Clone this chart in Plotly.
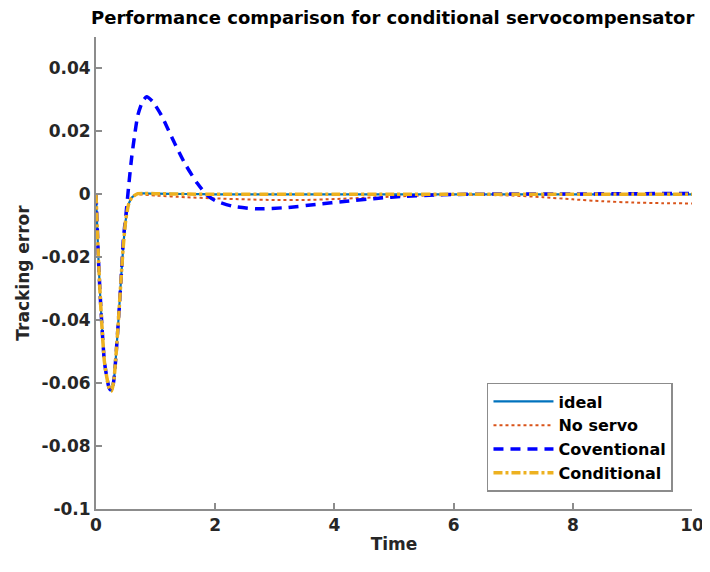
import plotly.graph_objects as go

t_dip = [0, 0.02, 0.04, 0.07, 0.1, 0.14, 0.18, 0.22, 0.26, 0.3, 0.34, 0.38, 0.42]
e_dip = [0, -0.010, -0.020, -0.032, -0.042, -0.053, -0.058, -0.0615, -0.0625, -0.059, -0.050, -0.039, -0.027]

t_ideal = t_dip + [0.46, 0.5, 0.55, 0.6, 0.7, 0.8, 1.0, 1.5, 2, 3, 4, 5, 6, 7, 8, 9, 10]
e_ideal = e_dip + [-0.016, -0.008, -0.003, -0.001, 0.0002, 0.0003, 0.0002, 0.0001, 0, 0, 0, 0, 0, 0, 0, 0, 0]

t_noservo = t_dip + [0.46, 0.5, 0.55, 0.6, 0.7, 1.0, 1.5, 2, 2.5, 3, 3.5, 4, 4.5, 5, 5.5, 6, 6.5, 7, 7.5, 8, 8.5, 9, 9.5, 10]
e_noservo = e_dip + [-0.016, -0.008, -0.003, -0.001, -0.0001, -0.0004, -0.0009, -0.0013, -0.0016, -0.0018,
                     -0.0018, -0.0015, -0.0011, -0.0007, -0.0004, -0.0002, -0.0002, -0.0004, -0.0009,
                     -0.0016, -0.0022, -0.0026, -0.0028, -0.0029]

t_conv = t_dip + [0.46, 0.5, 0.55, 0.6, 0.65, 0.7, 0.78, 0.85, 0.95, 1.1, 1.3, 1.5, 1.7, 1.85, 2.0, 2.3,
                  2.7, 3.2, 3.7, 4.2, 4.7, 5.2, 5.7, 6.2, 7, 8, 9, 10]
e_conv = e_dip + [-0.014, -0.007, 0.003, 0.012, 0.019, 0.025, 0.0295, 0.031, 0.0295, 0.025, 0.017, 0.0095,
                  0.0035, 0.0, -0.002, -0.0038, -0.0046, -0.0042, -0.0032, -0.0022, -0.0013, -0.0006,
                  -0.0002, 0.0, 0.0001, 0.0001, 0.0002, 0.0003]

t_cond = list(t_ideal)
e_cond = list(e_ideal)

y_ticks = [0.04, 0.02, 0, -0.02, -0.04, -0.06, -0.08, -0.1]
y_labels = ["0.04", "0.02", "0", "-0.02", "-0.04", "-0.06", "-0.08", "-0.1"]
x_ticks = [0, 2, 4, 6, 8, 10]

FONT = "DejaVu Sans"
TXT = "#262626"

fig = go.Figure()
fig.add_trace(go.Scatter(x=t_ideal, y=e_ideal, name="ideal", mode="lines",
                         line=dict(color="#0072BD", width=2.2, shape="spline", smoothing=0.6)))
fig.add_trace(go.Scatter(x=t_noservo, y=e_noservo, name="No servo", mode="lines",
                         line=dict(color="#D95319", width=2, dash="dot", shape="spline", smoothing=0.6)))
fig.add_trace(go.Scatter(x=t_conv, y=e_conv, name="Coventional", mode="lines",
                         line=dict(color="#0000FF", width=3.5, dash="10px,7px", shape="spline", smoothing=0.6)))
fig.add_trace(go.Scatter(x=t_cond, y=e_cond, name="Conditional", mode="lines",
                         line=dict(color="#EDB120", width=3.5, dash="9px,3px,3px,3px", shape="spline", smoothing=0.6)))

axis_common = dict(showgrid=False, zeroline=False, showline=True, linecolor="#8c8c8c", linewidth=2,
                   ticks="inside", ticklen=6, tickwidth=1.5, tickcolor="#8c8c8c",
                   ticklabeloverflow="allow", automargin=False,
                   tickfont=dict(family=FONT, size=17, color=TXT, weight="bold"))

fig.update_xaxes(range=[0, 10], tickvals=x_ticks, ticktext=[str(v) for v in x_ticks],
                 title=dict(text="<b>Time</b>", font=dict(family=FONT, size=17, color=TXT), standoff=4),
                 **axis_common)
fig.update_yaxes(range=[-0.1, 0.05], tickvals=y_ticks, ticktext=y_labels,
                 title=dict(text="<b>Tracking error</b>", font=dict(family=FONT, size=17, color=TXT), standoff=8),
                 **axis_common)

fig.update_layout(
    width=702, height=556,
    margin=dict(l=88, r=18, t=29, b=55, autoexpand=False),
    paper_bgcolor="white", plot_bgcolor="white",
    title=dict(text="<b>Performance comparison for conditional servocompensator</b>",
               font=dict(family=FONT, size=18, color="black"),
               x=0.548, xanchor="center", y=0.982, yanchor="middle"),
    legend=dict(x=0.656, y=0.267, xanchor="left", yanchor="top",
                bordercolor="#8c8c8c", borderwidth=1.5, bgcolor="white",
                font=dict(family=FONT, size=16, color="black", weight="bold"),
                itemwidth=60, tracegroupgap=0),
    showlegend=True,
)

fig.write_html("out.html")
